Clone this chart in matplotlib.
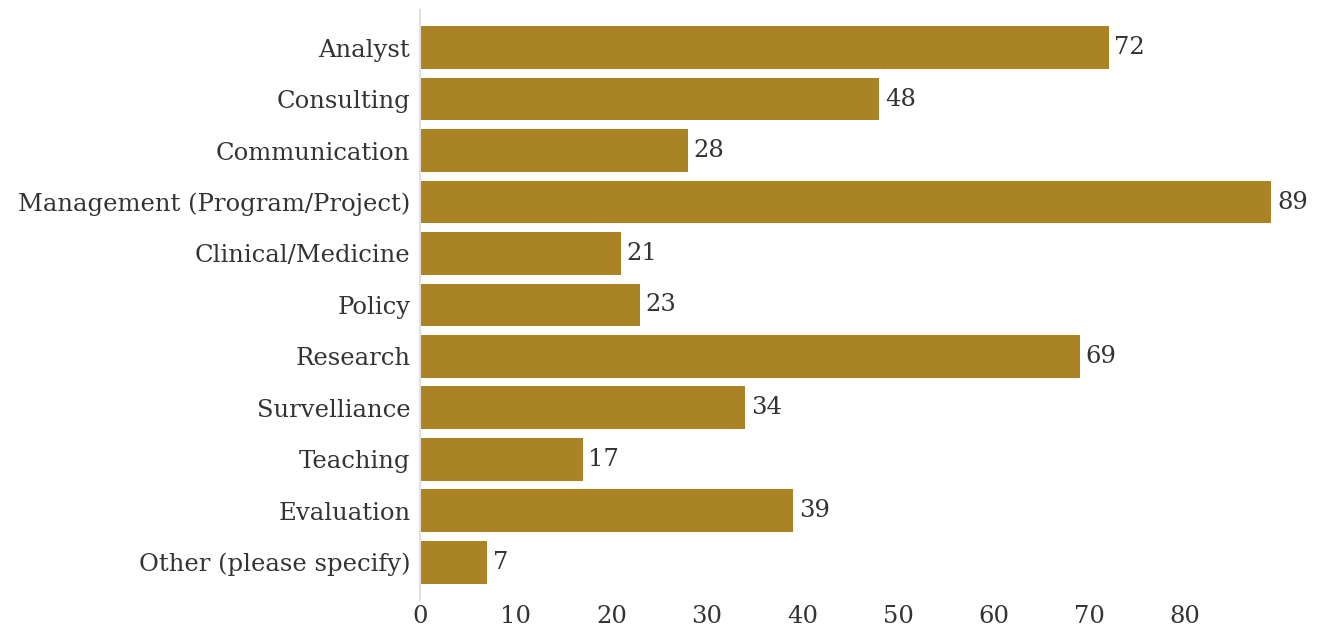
import matplotlib.pyplot as plt
import numpy as np

categories = ['Analyst', 'Consulting', 'Communication', 'Management (Program/Project)',
              'Clinical/Medicine', 'Policy', 'Research', 'Survelliance', 'Teaching',
              'Evaluation', 'Other (please specify)']
counts = [72, 48, 28, 89, 21, 23, 69, 34, 17, 39, 7]
xticks = [0, 10, 20, 30, 40, 50, 60, 70, 80]

plt.rcParams['font.family'] = ['DejaVu Serif']
txt = '#333333'
fs = 17.5

fig = plt.figure(figsize=(13.21, 6.32), dpi=100)
ax = fig.add_axes([0.318, 0.051, 0.666, 0.933])

y = np.arange(len(categories))
ax.barh(y, counts, height=0.83, color='#A98324')
for yi, v in zip(y, counts):
    ax.text(v + 0.6, yi, str(v), va='center', ha='left', fontsize=fs, color=txt)

ax.set_yticks(y)
ax.set_yticklabels(categories, fontsize=fs, color=txt)
ax.set_xticks(xticks)
ax.set_xticklabels([str(t) for t in xticks], fontsize=fs, color=txt)
ax.set_xlim(0, 92)
ax.set_ylim(10.73, -0.73)
ax.tick_params(axis='y', length=0, pad=7)
ax.tick_params(axis='x', length=0, pad=4)
for s in ['top', 'right', 'bottom']:
    ax.spines[s].set_visible(False)
ax.spines['left'].set_color('#e0e0e0')
ax.spines['left'].set_linewidth(1.5)

fig.savefig('out.png')
